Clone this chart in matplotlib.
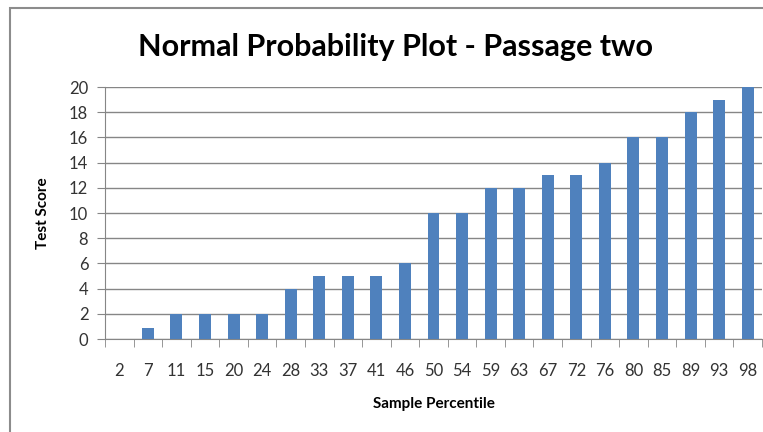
import matplotlib.pyplot as plt
from matplotlib.patches import Rectangle

# percentiles on the x axis and test scores
percentis = ["2", "7", "11", "15", "20", "24", "28", "33", "37", "41", "46", "50",
             "54", "59", "63", "67", "72", "76", "80", "85", "89", "93", "98"]
notas = [0, 0.9, 2, 2, 2, 2, 4, 5, 5, 5, 6, 10, 10, 12, 12, 13, 13, 14, 16, 16, 18, 19, 20]
yticks = list(range(0, 21, 2))

plt.rcParams['font.family'] = ['Lato', 'DejaVu Sans']

fig = plt.figure(figsize=(7.63, 4.32), dpi=100)
ax = fig.add_axes([105 / 763, 93 / 432, 657 / 763, 252 / 432])

# moldura cinza do grafico
fig.patches.append(Rectangle((10 / 763, -0.1), 1.2, (432 - 8) / 432 + 0.1,
                             transform=fig.transFigure, fill=False,
                             edgecolor='#8c8c8c', linewidth=1.5))

x = range(len(percentis))
ax.bar(x, notas, width=0.42, color='#4f81bd', zorder=3)

ax.set_xlim(-0.5, len(percentis) - 0.5)
ax.set_ylim(0, 20)
ax.set_yticks(yticks)
ax.set_xticks(list(x))
ax.set_xticklabels(percentis)
ax.set_xticks([i - 0.5 for i in range(len(percentis) + 1)], minor=True)
ax.tick_params(axis='x', which='major', length=0, pad=17, labelsize=12, colors='#333333')
ax.tick_params(axis='x', which='minor', length=6, color='#868686')
ax.tick_params(axis='y', length=6, color='#868686', labelsize=12, labelcolor='#333333', pad=6)

ax.grid(axis='y', color='#868686', linewidth=1, zorder=0)
for lado in ['top', 'right']:
    ax.spines[lado].set_visible(False)
ax.spines['left'].set_color('#868686')
ax.spines['bottom'].set_color('#868686')

ax.set_xlabel('Sample Percentile', fontsize=11, fontweight='bold', labelpad=13)
ax.set_ylabel('Test Score', fontsize=11, fontweight='bold', labelpad=14)
fig.text(395 / 763, 1 - 47 / 432, 'Normal Probability Plot - Passage two',
         ha='center', va='center', fontsize=22, fontweight='bold')

fig.savefig('out.png', dpi=100)
